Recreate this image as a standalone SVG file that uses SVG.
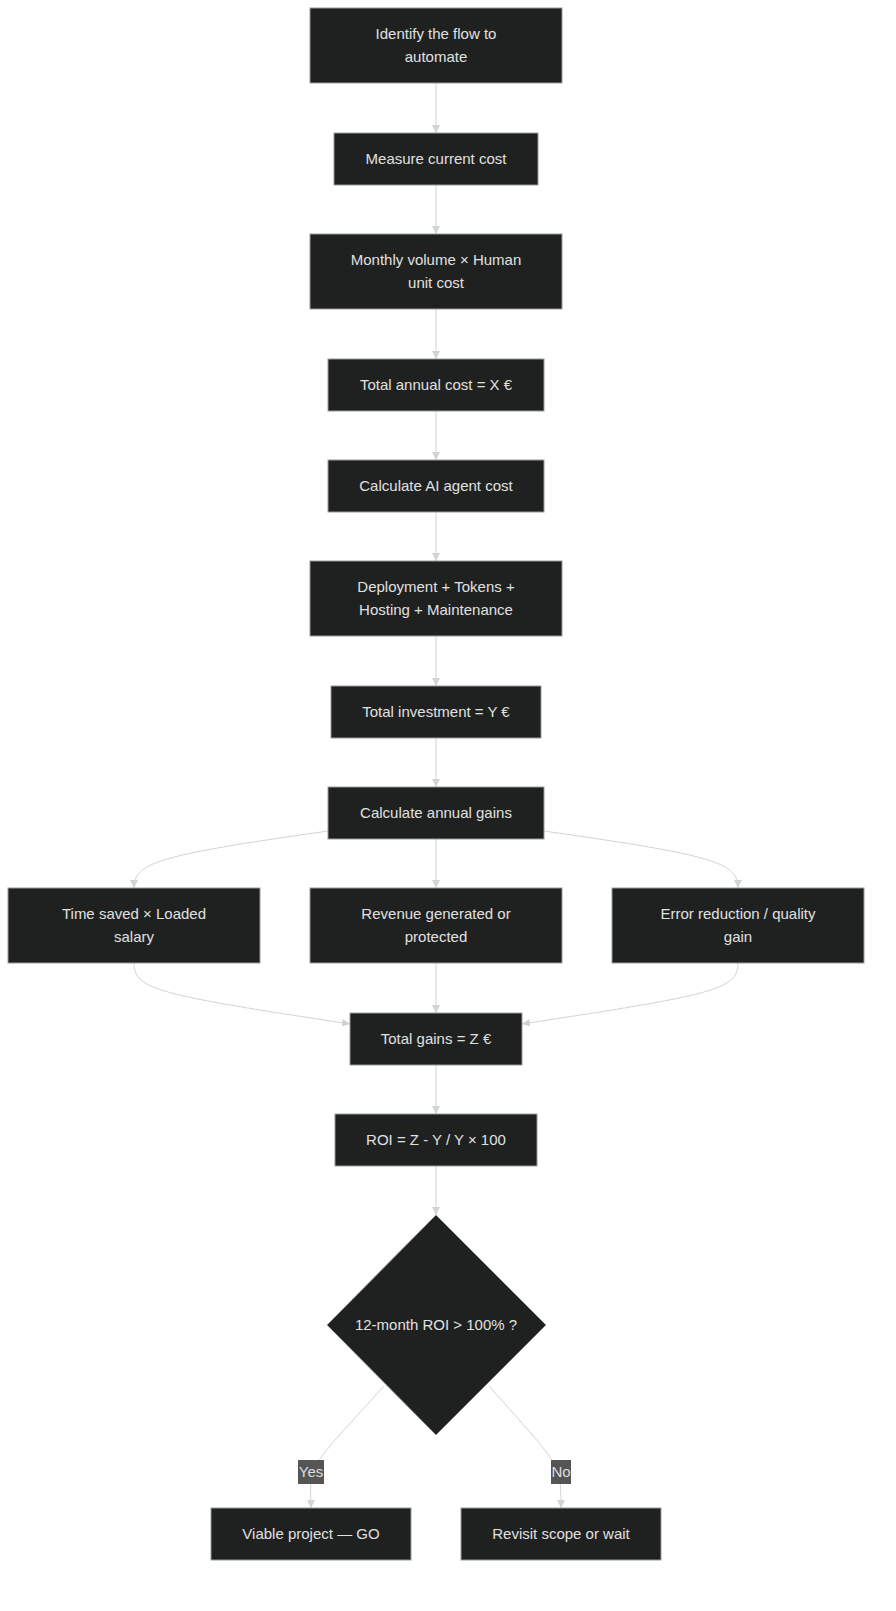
<svg xmlns="http://www.w3.org/2000/svg" width="896" height="1611" viewBox="0 0 896 1611">
<style>
.n{fill:#1f2020;stroke:#9a9a9a;stroke-width:1}
.t{font-family:"Liberation Sans",Arial,sans-serif;font-size:15px;fill:#e0e0e0;text-anchor:middle}
.e{fill:none;stroke:#d3d3d3;stroke-width:1}
.lb{fill:#555}
.lt{font-family:"Liberation Sans",Arial,sans-serif;font-size:15px;fill:#ddd;text-anchor:middle}
</style>
<defs><marker id="a" viewBox="0 0 10 10" refX="10" refY="5" markerWidth="8" markerHeight="8" orient="auto"><path d="M0,0L10,5L0,10z" fill="#d3d3d3"/></marker></defs>
<rect width="896" height="1611" fill="#fff"/>
<g id="edges">
<path class="e" marker-end="url(#a)" d="M436,83V133"/>
<path class="e" marker-end="url(#a)" d="M436,185V234"/>
<path class="e" marker-end="url(#a)" d="M436,309V359"/>
<path class="e" marker-end="url(#a)" d="M436,411V460"/>
<path class="e" marker-end="url(#a)" d="M436,512V561"/>
<path class="e" marker-end="url(#a)" d="M436,636V686"/>
<path class="e" marker-end="url(#a)" d="M436,738V787"/>
<path class="e" marker-end="url(#a)" d="M436,839V888"/>
<path class="e" marker-end="url(#a)" d="M328,831C160,855 134,862 134,888"/>
<path class="e" marker-end="url(#a)" d="M544,831C712,855 738,862 738,888"/>
<path class="e" marker-end="url(#a)" d="M134,963C134,990 160,995 350,1024"/>
<path class="e" marker-end="url(#a)" d="M738,963C738,990 712,995 522,1024"/>
<path class="e" marker-end="url(#a)" d="M436,963V1013"/>
<path class="e" marker-end="url(#a)" d="M436,1065V1114"/>
<path class="e" marker-end="url(#a)" d="M436,1166V1215"/>
<path class="e" marker-end="url(#a)" d="M384,1386C340,1435 313,1460 311,1480C310,1495 311,1500 311,1508"/>
<path class="e" marker-end="url(#a)" d="M489,1386C532,1435 558,1460 560,1480C561,1495 561,1500 561,1508"/>
<rect class="lb" x="298" y="1460" width="26" height="24"/><text class="lt" x="311" y="1477">Yes</text>
<rect class="lb" x="551" y="1460" width="20" height="24"/><text class="lt" x="561" y="1477">No</text>
</g>
<g id="n1"><rect class="n" x="310" y="8" width="252" height="75"/><text class="t" x="436" y="39">Identify the flow to</text><text class="t" x="436" y="62">automate</text></g>
<g id="n2"><rect class="n" x="334" y="133" width="204" height="52"/><text class="t" x="436" y="164">Measure current cost</text></g>
<g id="n3"><rect class="n" x="310" y="234" width="252" height="75"/><text class="t" x="436" y="265">Monthly volume × Human</text><text class="t" x="436" y="288">unit cost</text></g>
<g id="n4"><rect class="n" x="328" y="359" width="216" height="52"/><text class="t" x="436" y="390">Total annual cost = X €</text></g>
<g id="n5"><rect class="n" x="328" y="460" width="216" height="52"/><text class="t" x="436" y="491">Calculate AI agent cost</text></g>
<g id="n6"><rect class="n" x="310" y="561" width="252" height="75"/><text class="t" x="436" y="592">Deployment + Tokens +</text><text class="t" x="436" y="615">Hosting + Maintenance</text></g>
<g id="n7"><rect class="n" x="331" y="686" width="210" height="52"/><text class="t" x="436" y="717">Total investment = Y €</text></g>
<g id="n8"><rect class="n" x="328" y="787" width="216" height="52"/><text class="t" x="436" y="818">Calculate annual gains</text></g>
<g id="n9"><rect class="n" x="8" y="888" width="252" height="75"/><text class="t" x="134" y="919">Time saved × Loaded</text><text class="t" x="134" y="942">salary</text></g>
<g id="n10"><rect class="n" x="310" y="888" width="252" height="75"/><text class="t" x="436" y="919">Revenue generated or</text><text class="t" x="436" y="942">protected</text></g>
<g id="n11"><rect class="n" x="612" y="888" width="252" height="75"/><text class="t" x="738" y="919">Error reduction / quality</text><text class="t" x="738" y="942">gain</text></g>
<g id="n12"><rect class="n" x="350" y="1013" width="172" height="52"/><text class="t" x="436" y="1044">Total gains = Z €</text></g>
<g id="n13"><rect class="n" x="335" y="1114" width="202" height="52"/><text class="t" x="436" y="1145">ROI = Z - Y / Y × 100</text></g>
<g id="n14"><polygon class="n" points="436,1215 546,1325 436,1435 327,1325"/><text class="t" x="436" y="1330">12-month ROI &gt; 100% ?</text></g>
<g id="n15"><rect class="n" x="211" y="1508" width="200" height="52"/><text class="t" x="311" y="1539">Viable project — GO</text></g>
<g id="n16"><rect class="n" x="461" y="1508" width="200" height="52"/><text class="t" x="561" y="1539">Revisit scope or wait</text></g>
</svg>
